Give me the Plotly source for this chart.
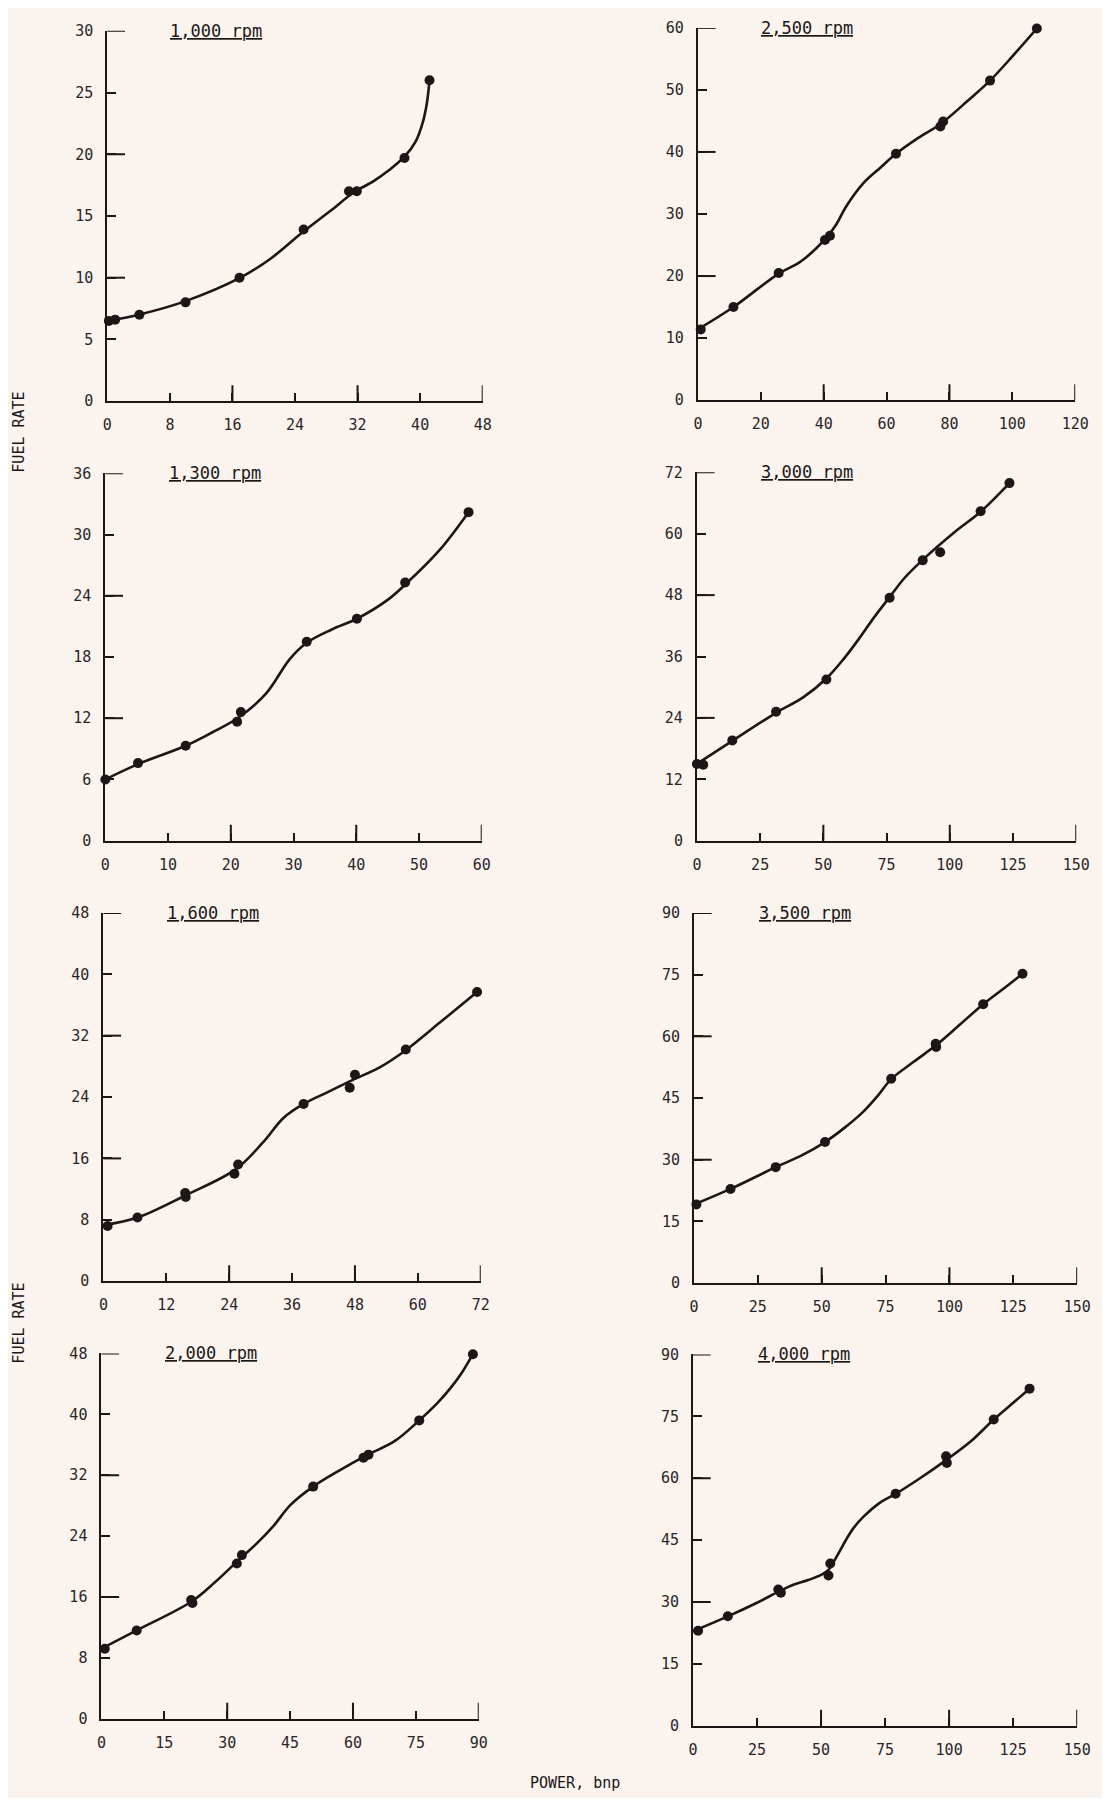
import plotly.graph_objects as go

# ---------------- data ----------------
titles = ["1,000 rpm", "2,500 rpm", "1,300 rpm", "3,000 rpm",
          "1,600 rpm", "3,500 rpm", "2,000 rpm", "4,000 rpm"]

# measured points (power bhp, fuel rate)
pts_1000_x = [0.2, 1.0, 4.1, 10.0, 16.9, 25.1, 30.9, 31.9, 38.0, 41.2]
pts_1000_y = [6.5, 6.6, 7.0, 8.0, 10.0, 13.9, 17.0, 17.0, 19.7, 26.0]
pts_2500_x = [0.9, 11.3, 25.7, 40.4, 42.0, 63.0, 77.1, 78.0, 92.9, 107.8]
pts_2500_y = [11.4, 15.0, 20.5, 25.8, 26.5, 39.7, 44.1, 44.9, 51.5, 59.9]
pts_1300_x = [0.0, 5.2, 12.8, 21.0, 21.6, 32.1, 40.1, 47.8, 57.9]
pts_1300_y = [6.0, 7.6, 9.3, 11.65, 12.6, 19.5, 21.75, 25.3, 32.2]
pts_3000_x = [0.0, 2.5, 14.0, 31.3, 51.2, 76.2, 89.3, 96.2, 112.2, 123.6]
pts_3000_y = [15.0, 14.85, 19.6, 25.2, 31.5, 47.5, 54.8, 56.4, 64.4, 69.9]
pts_1600_x = [0.8, 6.5, 15.6, 15.7, 25.0, 25.7, 38.2, 47.0, 48.0, 57.7, 71.3]
pts_1600_y = [7.2, 8.3, 11.5, 10.96, 14.0, 15.2, 23.1, 25.2, 26.9, 30.2, 37.7]
pts_3500_x = [0.95, 14.3, 32.0, 51.3, 77.2, 94.6, 94.8, 113.2, 128.6]
pts_3500_y = [19.1, 22.9, 28.2, 34.3, 49.7, 58.2, 57.4, 67.8, 75.2]
pts_2000_x = [0.8, 8.4, 21.4, 21.7, 32.3, 33.5, 50.5, 62.5, 63.7, 75.8, 88.6]
pts_2000_y = [9.2, 11.6, 15.6, 15.2, 20.4, 21.5, 30.5, 34.3, 34.7, 39.2, 47.9]
pts_4000_x = [2.0, 13.6, 33.3, 34.3, 52.9, 53.6, 79.1, 98.8, 99.1, 117.4, 131.4]
pts_4000_y = [23.0, 26.5, 33.0, 32.2, 36.4, 39.3, 56.2, 65.3, 63.7, 74.2, 81.7]

# hand-drawn smooth curves (knots)
crv_1000_x = [0, 4, 10, 17, 21, 25, 28.5, 31.5, 34, 36, 38, 39.4, 40.3, 40.85, 41.2]
crv_1000_y = [6.5, 7.0, 8.1, 10.0, 11.6, 13.7, 15.4, 16.9, 17.8, 18.7, 19.8, 21.0, 22.5, 24.1, 26.0]
crv_2500_x = [0, 11.3, 25.7, 32.6, 40.4, 44, 47, 52.5, 58.1, 63, 70.2, 77.4, 85.7, 92.9, 100, 107.8]
crv_2500_y = [11.4, 15.0, 20.4, 22.3, 25.9, 28.3, 31.1, 34.9, 37.5, 39.7, 42.3, 44.6, 48.2, 51.5, 55.4, 59.9]
crv_1300_x = [0, 5.2, 12.8, 17, 21.3, 25.6, 29.4, 32.1, 36.1, 40.1, 45.0, 47.8, 53.3, 57.9]
crv_1300_y = [6.0, 7.5, 9.3, 10.6, 12.1, 14.4, 17.8, 19.4, 20.7, 21.75, 23.6, 25.1, 28.5, 32.2]
crv_3000_x = [0, 14, 31.3, 42, 51.2, 58, 64, 70, 76.2, 82, 89.3, 101.6, 112.2, 123.6]
crv_3000_y = [15.0, 19.5, 25.0, 28.0, 31.7, 35.5, 39.4, 43.6, 47.6, 51.3, 54.9, 60.2, 64.3, 69.9]
crv_1600_x = [0, 6.5, 15.7, 25.3, 30.4, 34.4, 38.2, 43.0, 47.5, 52.8, 57.7, 64.2, 71.3]
crv_1600_y = [7.3, 8.3, 11.2, 14.6, 18.05, 21.3, 23.1, 24.7, 26.2, 27.9, 30.1, 33.7, 37.7]
crv_3500_x = [0, 14.3, 32, 42, 51.3, 59, 66.3, 72, 77.2, 86, 94.7, 104, 113.2, 121, 128.6]
crv_3500_y = [19.1, 22.9, 28.2, 31.0, 34.3, 37.8, 41.7, 45.6, 49.6, 53.8, 57.8, 62.8, 67.8, 71.5, 75.2]
crv_2000_x = [0, 8.4, 21.5, 27, 33, 37, 41, 45.1, 50.5, 56.7, 63.2, 70, 75.8, 80, 83.2, 86, 88.6]
crv_2000_y = [9.2, 11.6, 15.4, 17.9, 21.0, 23.0, 25.3, 28.1, 30.5, 32.6, 34.6, 36.5, 39.2, 41.4, 43.4, 45.5, 47.9]
crv_4000_x = [0, 13.6, 25, 33.8, 39.4, 45, 50.2, 53.0, 55.0, 57.3, 59.7, 62.8, 66.5, 73.3, 79.1, 88.2,
              99.1, 108.6, 117.4, 124.9, 131.4]
crv_4000_y = [22.9, 26.5, 29.8, 32.6, 34.2, 35.3, 36.6, 37.8, 39.8, 42.3, 45.0, 48.0, 50.6, 54.2, 56.2,
              59.8, 64.5, 69.0, 74.2, 78.2, 81.7]

# tick labels
xt_1000 = [0, 8, 16, 24, 32, 40, 48]
yt_1000 = [0, 5, 10, 15, 20, 25, 30]
xt_2500 = [0, 20, 40, 60, 80, 100, 120]
yt_2500 = [0, 10, 20, 30, 40, 50, 60]
xt_1300 = [0, 10, 20, 30, 40, 50, 60]
yt_1300 = [0, 6, 12, 18, 24, 30, 36]
xt_3000 = [0, 25, 50, 75, 100, 125, 150]
yt_3000 = [0, 12, 24, 36, 48, 60, 72]
xt_1600 = [0, 12, 24, 36, 48, 60, 72]
yt_1600 = [0, 8, 16, 24, 32, 40, 48]
xt_3500 = [0, 25, 50, 75, 100, 125, 150]
yt_3500 = [0, 15, 30, 45, 60, 75, 90]
xt_2000 = [0, 15, 30, 45, 60, 75, 90]
yt_2000 = [0, 8, 16, 24, 32, 40, 48]
xt_4000 = [0, 25, 50, 75, 100, 125, 150]
yt_4000 = [0, 15, 30, 45, 60, 75, 90]

y_label = "FUEL RATE"
x_label = "POWER, bnp"

# ---------------- layout / styling ----------------
PAGE_W, PAGE_H = 1110, 1806
OFF = 8                      # default page body margin
W, H = PAGE_W - 2 * OFF, PAGE_H - 2 * OFF
BG = "#faf3ee"
INK = "#1b1717"
FONT = "DejaVu Sans Mono"

# plot-area pixel boxes on the page (x0, x1, ytop, ybottom)
boxes = [(104, 486, 22, 396), (705, 1089, 19, 395),
         (102, 485, 469, 840), (704, 1090, 468, 840),
         (100, 484, 913, 1285), (701, 1091, 913, 1287),
         (98, 482, 1358, 1727), (700, 1091, 1359, 1734)]

panels = [
    (pts_1000_x, pts_1000_y, crv_1000_x, crv_1000_y, xt_1000, yt_1000),
    (pts_2500_x, pts_2500_y, crv_2500_x, crv_2500_y, xt_2500, yt_2500),
    (pts_1300_x, pts_1300_y, crv_1300_x, crv_1300_y, xt_1300, yt_1300),
    (pts_3000_x, pts_3000_y, crv_3000_x, crv_3000_y, xt_3000, yt_3000),
    (pts_1600_x, pts_1600_y, crv_1600_x, crv_1600_y, xt_1600, yt_1600),
    (pts_3500_x, pts_3500_y, crv_3500_x, crv_3500_y, xt_3500, yt_3500),
    (pts_2000_x, pts_2000_y, crv_2000_x, crv_2000_y, xt_2000, yt_2000),
    (pts_4000_x, pts_4000_y, crv_4000_x, crv_4000_y, xt_4000, yt_4000),
]


def px_x(X):
    return (X - OFF) / W


def px_y(Y):
    return 1 - (Y - OFF) / H


def sfx(k):
    return "" if k == 1 else str(k)


fig = go.Figure()
layout = {}
annotations = []
shapes = []

for i, (px, py, cx, cy, xt, yt) in enumerate(panels):
    n = sfx(i + 1)
    x0, x1, yt0, yb = boxes[i]
    pw, ph = x1 - x0, yb - yt0
    xdom = [px_x(x0), px_x(x1)]
    ydom = [px_y(yb), px_y(yt0)]
    xr = [0, xt[-1]]
    yr = [0, yt[-1]]

    fig.add_trace(go.Scatter(x=cx, y=cy, mode="lines",
                             line=dict(color=INK, width=2.6, shape="spline", smoothing=1.0),
                             xaxis=f"x{n}", yaxis=f"y{n}", showlegend=False, hoverinfo="skip",
                             cliponaxis=False))
    fig.add_trace(go.Scatter(x=px, y=py, mode="markers", marker=dict(color=INK, size=10),
                             xaxis=f"x{n}", yaxis=f"y{n}", showlegend=False, cliponaxis=False))

    common = dict(showgrid=False, zeroline=False, fixedrange=True, tickmode="array",
                  ticks="inside", tickwidth=2, tickcolor=INK, showline=True, linecolor=INK,
                  linewidth=2, tickfont=dict(family=FONT, size=15, color="#2a2626"),
                  ticklabelstandoff=9)
    layout[f"xaxis{n}"] = dict(domain=xdom, anchor=f"y{n}", range=xr, tickvals=xt,
                               ticktext=[str(v) for v in xt], ticklen=8, **common)
    layout[f"yaxis{n}"] = dict(domain=ydom, anchor=f"x{n}", range=yr, tickvals=yt,
                               ticktext=[str(v) for v in yt], ticklen=9, **common)

    # every second tick is drawn longer, as in the original
    for v in xt[2::2]:
        shapes.append(dict(type="line", xref=f"x{n}", yref=f"y{n} domain", x0=v, x1=v,
                           y0=0, y1=16 / ph, line=dict(color=INK, width=2)))
    for v in yt[2::2]:
        shapes.append(dict(type="line", xref=f"x{n} domain", yref=f"y{n}", x0=0, x1=18 / pw,
                           y0=v, y1=v, line=dict(color=INK, width=2)))

    annotations.append(dict(text=f"<u>{titles[i]}</u>", xref=f"x{n} domain", yref=f"y{n} domain",
                            x=0.29, y=1.0, xanchor="center", yanchor="middle", showarrow=False,
                            font=dict(family=FONT, size=17, color=INK)))

for yc in (427, 1327):
    annotations.append(dict(text=y_label, xref="paper", yref="paper", x=px_x(14), y=px_y(yc),
                            textangle=-90, showarrow=False, xanchor="center", yanchor="middle",
                            font=dict(family=FONT, size=15, color=INK)))
annotations.append(dict(text=x_label, xref="paper", yref="paper", x=px_x(580), y=px_y(1792),
                        showarrow=False, xanchor="center", yanchor="middle",
                        font=dict(family=FONT, size=15, color=INK)))

fig.update_layout(width=W, height=H, autosize=False, margin=dict(l=0, r=0, t=0, b=0),
                  paper_bgcolor=BG, plot_bgcolor=BG, showlegend=False,
                  annotations=annotations, shapes=shapes, **layout)

fig.write_html("out.html")
